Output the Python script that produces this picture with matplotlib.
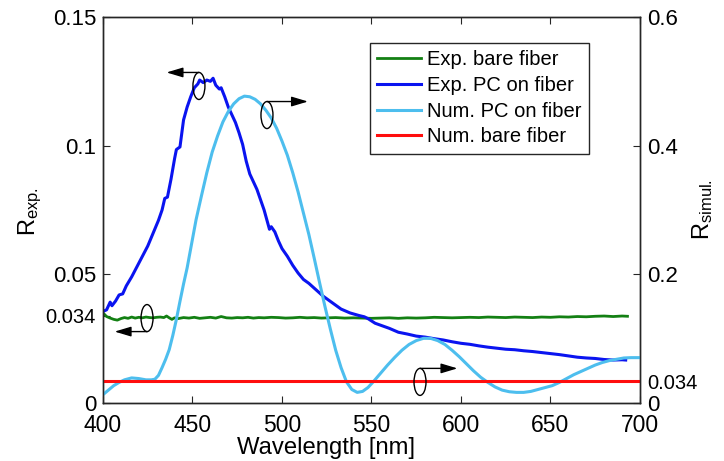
import matplotlib
matplotlib.use("Agg")
import matplotlib.pyplot as plt
from matplotlib.patches import Ellipse

plt.rcParams['font.family'] = ['Liberation Sans', 'DejaVu Sans']
plt.rcParams['mathtext.fontset'] = 'custom'
plt.rcParams['mathtext.rm'] = 'Liberation Sans'
plt.rcParams['mathtext.it'] = 'Liberation Sans'

# ---------------- data ----------------
exp_pc_wl = [400, 402, 404, 405, 407, 409, 411, 413, 416, 419, 422, 425, 428, 431, 433, 434.5,
             436, 438, 440, 441, 443, 445, 447, 449, 451, 453, 454, 456, 458, 460, 461.5, 463,
             465, 466, 468, 470, 472, 474, 476, 478, 480, 482, 484, 486, 488, 490, 492, 493,
             494, 496, 498, 500, 503, 506, 509, 512, 515, 519, 523, 528, 533, 538, 543, 546,
             548, 552, 556, 560, 565, 570, 575, 580, 585, 590, 595, 600, 605, 610, 615, 620,
             625, 630, 635, 640, 645, 650, 655, 660, 665, 670, 675, 680, 685, 690, 692]
exp_pc_r = [0.0356, 0.0362, 0.0392, 0.0378, 0.0396, 0.0420, 0.0424, 0.0455, 0.0490, 0.0530,
            0.0570, 0.0610, 0.0660, 0.0710, 0.0750, 0.0795, 0.0800, 0.0870, 0.0950, 0.0985,
            0.0995, 0.1100, 0.1150, 0.1190, 0.1225, 0.1240, 0.1255, 0.1245, 0.1255, 0.1250,
            0.1262, 0.1235, 0.1220, 0.1225, 0.1190, 0.1150, 0.1120, 0.1090, 0.1050, 0.1005,
            0.0940, 0.0890, 0.0860, 0.0830, 0.0790, 0.0750, 0.0700, 0.0675, 0.0685, 0.0665,
            0.0630, 0.0600, 0.0570, 0.0535, 0.0505, 0.0480, 0.0465, 0.0440, 0.0415, 0.0390,
            0.0365, 0.0350, 0.0340, 0.0335, 0.0328, 0.0310, 0.0300, 0.0290, 0.0275, 0.0268,
            0.0260, 0.0256, 0.0250, 0.0245, 0.0238, 0.0232, 0.0228, 0.0222, 0.0217, 0.0213,
            0.0209, 0.0207, 0.0203, 0.0200, 0.0196, 0.0192, 0.0188, 0.0183, 0.0178, 0.0175,
            0.0173, 0.0169, 0.0167, 0.0168, 0.0167]

exp_bare_wl = [400, 402, 404, 406, 408, 410, 412, 414, 416, 418, 420, 422, 424, 426, 428, 430,
               432, 434, 435.5, 437, 438.5, 440, 442, 445, 448, 451, 454, 457, 460, 463, 466,
               469, 472, 475, 478, 481, 484, 487, 490, 494, 498, 502, 506, 510, 514, 518, 522,
               526, 530, 535, 540, 545, 550, 555, 560, 565, 570, 575, 580, 585, 590, 595, 600,
               605, 610, 615, 620, 625, 630, 635, 640, 645, 650, 655, 660, 665, 670, 675, 680,
               685, 690, 693]
exp_bare_r = [0.0350, 0.0336, 0.0330, 0.0325, 0.0322, 0.0328, 0.0332, 0.0329, 0.0334, 0.0330,
              0.0333, 0.0331, 0.0334, 0.0332, 0.0331, 0.0333, 0.0334, 0.0332, 0.0338, 0.0331,
              0.0325, 0.0331, 0.0328, 0.0332, 0.0330, 0.0333, 0.0329, 0.0331, 0.0333, 0.0330,
              0.0336, 0.0331, 0.0330, 0.0332, 0.0331, 0.0333, 0.0330, 0.0332, 0.0331, 0.0333,
              0.0332, 0.0330, 0.0331, 0.0333, 0.0331, 0.0332, 0.0330, 0.0331, 0.0332, 0.0330,
              0.0331, 0.0330, 0.0329, 0.0330, 0.0331, 0.0329, 0.0331, 0.0330, 0.0331, 0.0333,
              0.0332, 0.0331, 0.0332, 0.0333, 0.0332, 0.0334, 0.0333, 0.0332, 0.0334, 0.0333,
              0.0332, 0.0334, 0.0333, 0.0335, 0.0334, 0.0336, 0.0335, 0.0337, 0.0338, 0.0336,
              0.0338, 0.0337]

num_pc_wl = [400, 403, 406, 409, 412, 416, 420, 424, 427, 429, 431, 433, 435, 437, 439, 441,
             443, 445, 447, 449, 452, 455, 458, 461, 464, 467, 470, 473, 476, 479, 482, 485,
             488, 491, 494, 497, 500, 503, 506, 509, 512, 515, 518, 521, 524, 527, 530, 533,
             536, 539, 542, 545, 548, 551, 555, 559, 563, 567, 571, 575, 579, 583, 587, 591,
             595, 599, 603, 607, 611, 615, 619, 623, 627, 631, 635, 639, 643, 647, 651, 655,
             659, 663, 667, 671, 675, 679, 683, 687, 691, 695, 700]
num_pc_r = [0.013, 0.020, 0.027, 0.032, 0.036, 0.039, 0.038, 0.036, 0.036, 0.037, 0.043, 0.055,
            0.068, 0.083, 0.105, 0.130, 0.158, 0.185, 0.210, 0.240, 0.285, 0.322, 0.358, 0.390,
            0.415, 0.437, 0.453, 0.465, 0.473, 0.477, 0.476, 0.472, 0.465, 0.455, 0.443, 0.427,
            0.407, 0.385, 0.358, 0.328, 0.295, 0.262, 0.225, 0.187, 0.150, 0.115, 0.082, 0.055,
            0.033, 0.021, 0.0165, 0.018, 0.024, 0.033, 0.046, 0.059, 0.071, 0.082, 0.091, 0.097,
            0.1005, 0.1005, 0.097, 0.091, 0.082, 0.072, 0.061, 0.050, 0.040, 0.032, 0.025,
            0.020, 0.0175, 0.0165, 0.0165, 0.018, 0.021, 0.024, 0.027, 0.032, 0.038, 0.044,
            0.049, 0.054, 0.059, 0.063, 0.066, 0.068, 0.070, 0.0705, 0.0705]

num_bare_wl = [400, 700]
num_bare_r = [0.034, 0.034]

labels = ['Exp. bare fiber', 'Exp. PC on fiber', 'Num. PC on fiber', 'Num. bare fiber']
colors = ['#138013', '#0a14f0', '#4dbeee', '#ff0d0d']

x_ticks = [400, 450, 500, 550, 600, 650, 700]
left_ticks = [0, 0.034, 0.05, 0.1, 0.15]
left_ticklabels = ['0', '0.034', '0.05', '0.1', '0.15']
right_ticks = [0, 0.034, 0.2, 0.4, 0.6]
right_ticklabels = ['0', '0.034', '0.2', '0.4', '0.6']

# ---------------- figure ----------------
fig = plt.figure(figsize=(7.24, 4.61), dpi=100)
ax = fig.add_axes([103 / 724, 58 / 461, 537 / 724, 386 / 461])
ax2 = ax.twinx()

spine_c = '#262626'
l1, = ax.plot(exp_bare_wl, exp_bare_r, color=colors[0], lw=2.0)
l2, = ax.plot(exp_pc_wl, exp_pc_r, color=colors[1], lw=2.2)
l3, = ax2.plot(num_pc_wl, num_pc_r, color=colors[2], lw=2.2)
l4, = ax2.plot(num_bare_wl, num_bare_r, color=colors[3], lw=2.2)

ax.set_xlim(400, 700)
ax.set_ylim(0, 0.15)
ax2.set_ylim(0, 0.6)

ax.set_xticks(x_ticks)
ax.set_xticklabels([str(t) for t in x_ticks])
ax.set_yticks(left_ticks)
ax.set_yticklabels(left_ticklabels)
ax2.set_yticks(right_ticks)
ax2.set_yticklabels(right_ticklabels)

ax.tick_params(axis='x', direction='in', top=True, labelsize=16.5, pad=8, length=5,
               color=spine_c)
ax.tick_params(axis='y', direction='in', right=False, labelsize=16, pad=5, length=5,
               color=spine_c)
ax2.tick_params(axis='y', direction='in', labelsize=16, pad=5, length=5, color=spine_c)
for t in ax.get_yticklabels():
    if t.get_text() == '0.034':
        t.set_fontsize(14.5)
for t in ax2.get_yticklabels():
    if t.get_text() == '0.034':
        t.set_fontsize(14.5)

for a in (ax, ax2):
    for s in a.spines.values():
        s.set_color(spine_c)
        s.set_linewidth(1.0)

ax.set_xlabel('Wavelength [nm]', fontsize=17.2)
ax.xaxis.set_label_coords(0.416, -0.089)
ax.set_ylabel(r'R$_{\mathrm{exp.}}$', fontsize=17)
ax.yaxis.set_label_coords(-0.11, 0.495)
ax2.set_ylabel(r'R$_{\mathrm{simul.}}$', fontsize=17)
ax2.yaxis.set_label_coords(1.093, 0.5)

leg = ax2.legend([l1, l2, l3, l4], labels, loc='upper left',
                 bbox_to_anchor=(0.497, 0.933), borderaxespad=0, fontsize=14.5,
                 frameon=True, fancybox=False, edgecolor=spine_c, framealpha=1,
                 handlelength=2.2, handletextpad=0.3, labelspacing=0.34,
                 borderpad=0.35)
leg.get_frame().set_linewidth(1.0)

# ---------------- ellipse + arrow annotations (left-axis data coords) ----------------
def mark(cx, cy, w, h, x_end, top=True):
    e = Ellipse((cx, cy), w, h, transform=ax.transData, fill=False,
                edgecolor='black', lw=1.0, zorder=5)
    ax2.add_patch(e)
    ya = cy + h / 2 if top else cy - h / 2
    ax2.annotate('', xy=(x_end, ya), xytext=(cx, ya),
                 xycoords=ax.transData, textcoords=ax.transData,
                 arrowprops=dict(arrowstyle='-|>,head_length=1.0,head_width=0.3',
                                 color='black', lw=1.0, shrinkA=0, shrinkB=0),
                 zorder=5)

mark(453.6, 0.1232, 6.7, 0.0105, 435.5, top=True)
mark(491.6, 0.1119, 6.7, 0.0105, 514.5, top=True)
mark(424.6, 0.0330, 6.7, 0.0105, 406.5, top=False)
mark(577.1, 0.0082, 6.7, 0.0105, 598.0, top=True)

fig.savefig('out.png', dpi=100)
